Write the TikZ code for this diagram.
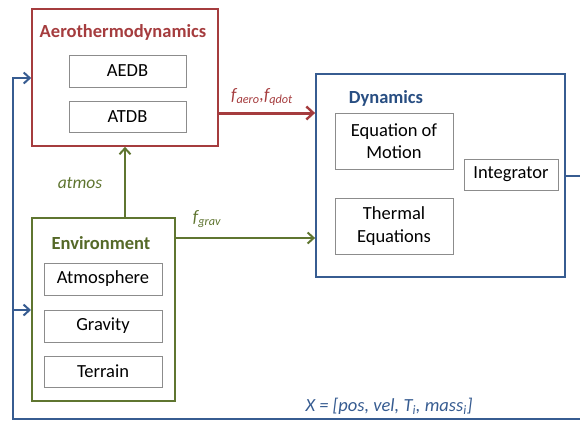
\documentclass[tikz,border=0pt]{standalone}
\usepackage{fontspec}
\setmainfont{Carlito}
\usetikzlibrary{arrows.meta}
\definecolor{aered}{RGB}{165,60,62}
\definecolor{envgreen}{RGB}{95,117,48}
\definecolor{envtitle}{RGB}{85,105,40}
\definecolor{dynblue}{RGB}{55,92,145}
\definecolor{dyntitle}{RGB}{40,78,130}
\definecolor{innergrey}{RGB}{140,140,140}
\tikzset{
  x=1pt,y=-1pt,
  every node/.style={font=\fontsize{18.5}{20}\selectfont, inner sep=0pt},
  outerbox/.style={draw, fill=white, line width=1.6pt},
  innerbox/.style={draw=innergrey, line width=0.9pt, fill=white, align=center},
  titletext/.style={font=\fontsize{18.5}{20}\selectfont\bfseries},
  lbl/.style={font=\fontsize{17.5}{19}\selectfont\itshape},
  conn/.style={line width=2pt, -{Straight Barb[length=6pt,width=11pt,line width=2pt]}},
}
\begin{document}
\begin{tikzpicture}
\useasboundingbox (0,0) rectangle (580,421);
% outer boxes
\node[outerbox, draw=aered, minimum width=186pt, minimum height=137pt] (aero) at (125,77.5) {};
\node[outerbox, draw=dynblue, line width=1.8pt, minimum width=249pt, minimum height=203pt] (dyn) at (440.5,175.5) {};
\node[outerbox, draw=envgreen, line width=2pt, minimum width=143pt, minimum height=183pt] (env) at (103.5,309.5) {};
% titles
\node[titletext, text=aered] (aerot) at (123,32) {Aerothermodynamics};
\node[titletext, text=dyntitle] (dynt) at (386,98) {Dynamics};
\node[titletext, text=envtitle] (envt) at (101,243) {Environment};
% inner boxes
\node[innerbox, minimum width=117pt, minimum height=32pt] (aedb) at (127.5,71) {AEDB};
\node[innerbox, minimum width=117pt, minimum height=31pt] (atdb) at (127.5,116.5) {ATDB};
\node[innerbox, minimum width=118pt, minimum height=56pt] (eom) at (394,141) {Equation of\\[2.5pt]Motion};
\node[innerbox, minimum width=118pt, minimum height=56pt] (therm) at (394,226) {Thermal\\[2.5pt]Equations};
\node[innerbox, minimum width=94pt, minimum height=31pt] (integ) at (511,174.5) {Integrator};
\node[innerbox, minimum width=118pt, minimum height=32pt] (atm) at (103,279) {Atmosphere};
\node[innerbox, minimum width=118pt, minimum height=32pt] (grav) at (103,326) {Gravity};
\node[innerbox, minimum width=118pt, minimum height=31pt] (terr) at (103,371.5) {Terrain};
% connectors
\draw[conn, aered, line width=3pt, -{Straight Barb[length=7pt,width=13pt,line width=2.4pt]}] (aero.east |- 0,113) -- (dyn.west |- 0,113);
\draw[conn, envgreen] (env.north -| 125,0) -- (aero.south -| 125,0);
\draw[conn, envgreen] (env.east |- 0,238) -- (dyn.west |- 0,238);
\coordinate (outR) at (580,176);
\coordinate (botR) at (580,419);
\coordinate (botL) at (13,419);
\coordinate (topL) at (13,78);
\coordinate (midL) at (13,310);
\draw[dynblue, line width=2pt] (dyn.east |- outR) -- (outR);
\draw[conn, dynblue] (botR) -- (botL) -- (topL) -- (aero.west |- topL);
\draw[conn, dynblue] (midL) -- (env.west |- midL);
% labels
\node[lbl, text=aered] (faero) at (262,97) {f\textsubscript{aero},f\textsubscript{qdot}};
\node[lbl, text=envgreen] (atmos) at (80,183) {atmos};
\node[lbl, text=envgreen] (fgrav) at (207,219) {f\textsubscript{grav}};
\node[lbl, text=dynblue, font=\fontsize{18.5}{20}\selectfont\itshape] (xstate) at (389,406) {X = [pos, vel, T\textsubscript{i}, mass\textsubscript{i}]};
\end{tikzpicture}
\end{document}
